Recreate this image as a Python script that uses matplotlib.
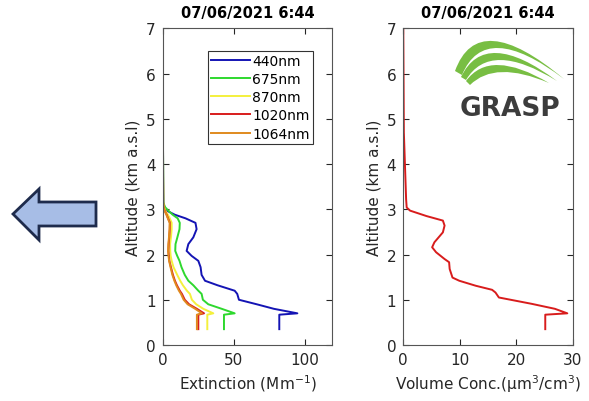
import matplotlib.pyplot as plt
from matplotlib.patches import Polygon, PathPatch
from matplotlib.path import Path

plt.rcParams['font.family'] = ['DejaVu Sans']

# Extinction profiles (Mm-1) on a shared altitude grid (km a.s.l)
alt_ext = [0.35, 0.67, 0.70, 0.80, 0.90, 1.00, 1.13, 1.20, 1.32, 1.42, 1.55, 1.72, 1.86, 1.97,
           2.08, 2.23, 2.38, 2.56, 2.70, 2.80, 2.88, 2.97, 3.05, 3.15, 3.40, 4.00, 5.00, 7.00]
ext_440 = [81.8, 81.8, 94.5, 78.0, 66.0, 53.5, 52.3, 50.5, 38.5, 29.7, 27.3, 26.6, 25.0, 20.3,
           16.8, 18.0, 21.5, 23.8, 23.0, 16.0, 8.5, 2.8, 1.2, 0.5, 0.4, 0.3, 0.1, 0.0]
ext_675 = [43.0, 43.0, 50.5, 41.4, 32.0, 28.2, 27.3, 25.0, 21.5, 18.0, 15.5, 13.2, 11.8, 10.2,
           8.8, 9.0, 10.3, 11.8, 12.0, 10.5, 7.0, 4.0, 1.6, 0.5, 0.4, 0.3, 0.1, 0.0]
ext_870 = [31.3, 31.3, 35.5, 28.5, 23.5, 20.5, 19.1, 17.0, 14.2, 12.3, 10.2, 7.6, 6.3, 5.6,
           5.3, 5.2, 5.8, 6.3, 6.3, 5.0, 3.6, 1.9, 0.9, 0.4, 0.4, 0.3, 0.1, 0.0]
ext_1020 = [25.0, 25.0, 29.0, 24.0, 18.5, 15.5, 13.5, 12.0, 10.0, 8.6, 7.2, 5.8, 4.7, 4.3,
            4.0, 4.2, 4.6, 5.0, 5.1, 3.8, 2.8, 1.4, 0.6, 0.3, 0.3, 0.2, 0.1, 0.0]
ext_1064 = [24.0, 24.0, 27.5, 22.8, 17.5, 14.7, 12.8, 11.4, 9.5, 8.2, 6.8, 5.5, 4.5, 4.1,
            3.8, 4.0, 4.4, 4.8, 4.9, 3.6, 2.6, 1.3, 0.55, 0.3, 0.3, 0.2, 0.1, 0.0]
wavelengths = ['440nm', '675nm', '870nm', '1020nm', '1064nm']
colors = ['#1414b4', '#2ed82e', '#f4f03c', '#d81c1c', '#e08a1e']

# Volume concentration profile (um3/cm3)
alt_vol = [0.35, 0.67, 0.70, 0.80, 0.91, 0.98, 1.05, 1.16, 1.22, 1.31, 1.42, 1.49, 1.68, 1.83,
           1.90, 2.05, 2.16, 2.27, 2.49, 2.64, 2.75, 2.85, 2.97, 3.04, 3.22, 3.96, 4.70, 7.00]
vol = [25.1, 25.1, 29.0, 26.8, 22.7, 19.8, 16.9, 16.3, 15.7, 12.8, 9.9, 8.7, 8.2, 8.1,
       7.3, 5.8, 5.1, 5.5, 7.0, 7.3, 7.0, 4.1, 1.2, 0.6, 0.5, 0.3, 0.1, 0.0]

title = '07/06/2021 6:44'
txt = '#262626'

fig = plt.figure(figsize=(5.89, 4.02), dpi=100)
ax1 = fig.add_axes([0.2762, 0.1393, 0.288, 0.7878])
ax2 = fig.add_axes([0.6847, 0.1393, 0.2881, 0.7878])


def style(ax):
    ax.set_ylim(0, 7)
    ax.set_yticks(range(8))
    ax.tick_params(direction='in', top=True, right=True, length=4, width=0.8,
                   labelsize=11, colors=txt, pad=5)
    for s in ax.spines.values():
        s.set_color('#555555')
        s.set_linewidth(0.8)
    ax.set_ylabel('Altitude (km a.s.l)', fontsize=11, color=txt, labelpad=4)
    ax.set_title(title, fontsize=10.5, fontweight='bold', color='black', pad=8)


series = [ext_440, ext_675, ext_870, ext_1020, ext_1064]
for vals, lab, c in zip(series, wavelengths, colors):
    ax1.plot(vals, alt_ext, color=c, lw=1.4, label=lab)
ax1.set_xlim(0, 119)
ax1.set_xticks([0, 50, 100])
style(ax1)
ax1.set_xlabel('Extinction (Mm$^{-1}$)', fontsize=11, color=txt, labelpad=4)
leg = ax1.legend(loc='upper right', bbox_to_anchor=(0.884, 0.929), fontsize=10,
                 fancybox=False, edgecolor='black', handlelength=2.8,
                 labelspacing=0.3, borderaxespad=0, handletextpad=0.15, borderpad=0.22)
leg.get_frame().set_linewidth(0.8)

ax2.plot(vol, alt_vol, color='#d81c1c', lw=1.4)
ax2.set_xlim(0, 30)
ax2.set_xticks([0, 10, 20, 30])
style(ax2)
ax2.set_xlabel('Volume Conc.(\u03bcm$^3$/cm$^3$)', fontsize=11, color=txt, labelpad=4)

# GRASP logo
W, H = 589, 402
lg = fig.add_axes([450 / W, 1 - 92 / H, 120 / W, 54 / H])
lg.set_xlim(450, 570)
lg.set_ylim(92, 38)
lg.axis('off')
green = '#78be43'
bands = [((455, 72), (478, 8), (564, 80), (485, 20), (462, 76)),
         ((461, 78), (485, 28), (557, 82), (490, 40.5), (466, 81)),
         ((466, 82), (490, 49), (549, 84), (495, 61), (470, 86))]
codes = [Path.MOVETO, Path.CURVE3, Path.LINETO, Path.CURVE3, Path.LINETO, Path.CLOSEPOLY]
for p0, c_up, p1, c_lo, q0 in bands:
    verts = [p0, c_up, p1, c_lo, q0, p0]
    lg.add_patch(PathPatch(Path(verts, codes), facecolor=green, edgecolor='none'))
fig.text(510 / W, 1 - 109 / H, 'GRASP', fontsize=19, fontweight='bold', color='#3c3c3c',
         ha='center', va='center')

# arrow on the left
arrow_px = [(13, 215), (39, 190), (39, 203), (96, 203), (96, 227), (39, 227), (39, 241)]
arrow = Polygon([(x / W, 1 - y / H) for x, y in arrow_px], closed=True,
                transform=fig.transFigure, facecolor='#a7bde6', edgecolor='#1e2b4c', lw=2)
fig.patches.append(arrow)

fig.savefig('out.png', dpi=100)
